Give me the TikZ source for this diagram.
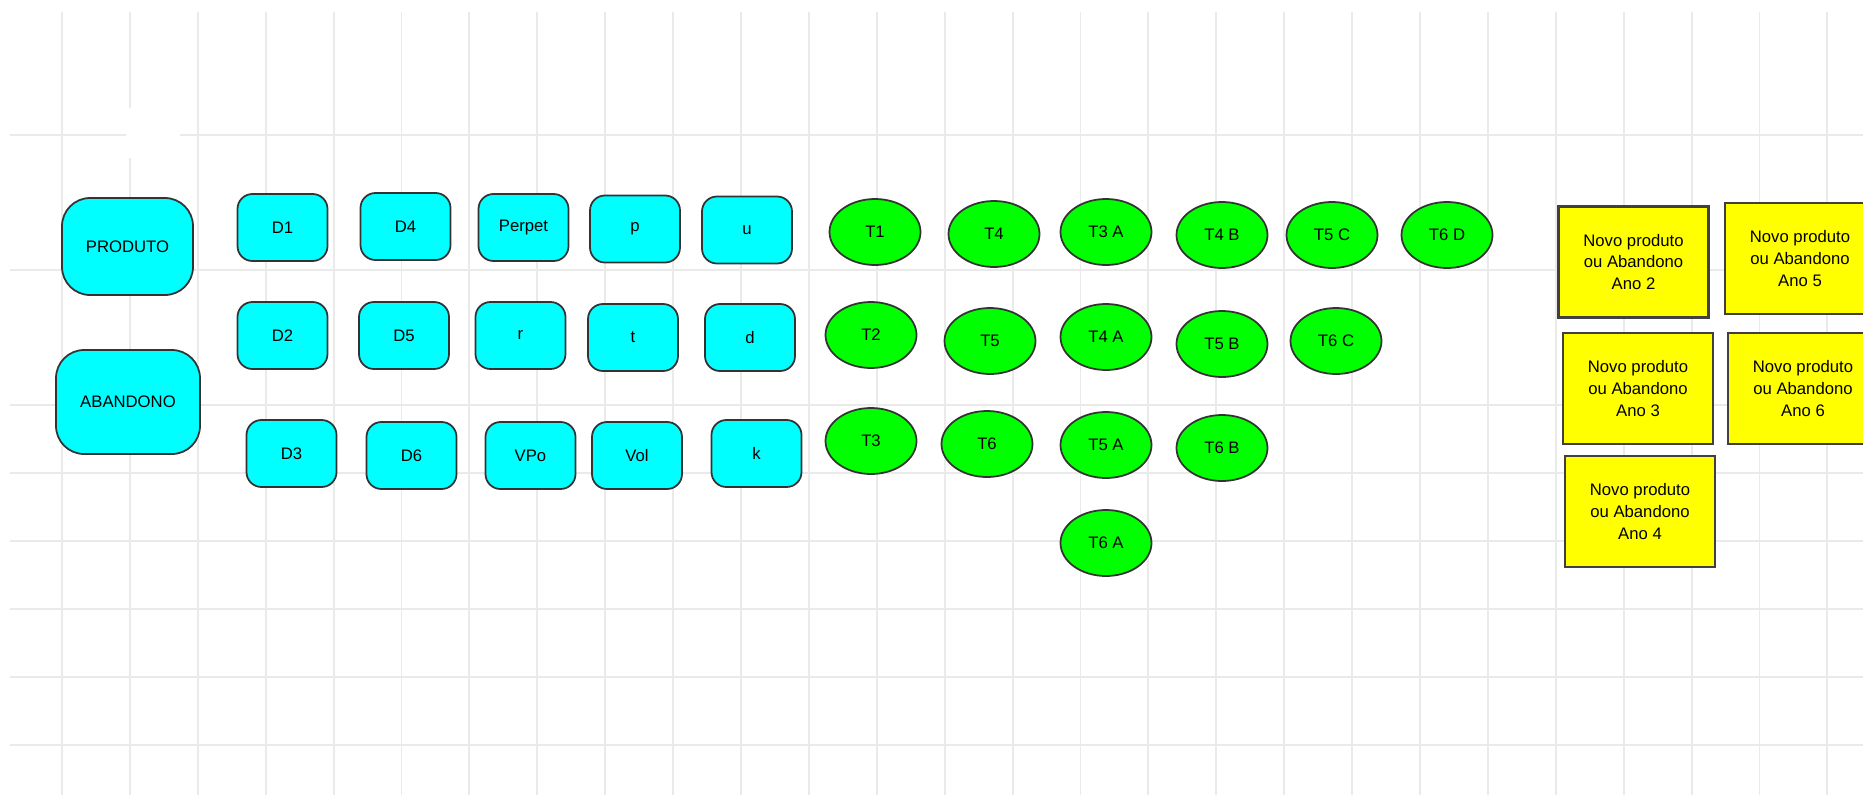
\documentclass[tikz,border=0pt]{standalone}
\usepackage{fontspec}
\setmainfont{Liberation Sans}
\usetikzlibrary{shapes.geometric}
\definecolor{boxC}{HTML}{00FFFF}
\definecolor{ellG}{HTML}{00FF00}
\definecolor{noteY}{HTML}{FFFF00}
\definecolor{gridL}{HTML}{EAEAEA}
\newcommand{\pxl}{0.02cm}
\tikzset{
  gridline/.style={draw=gridL, line width=1.1pt},
  varbox/.style={rectangle, rounded corners=8.5pt, fill=boxC, draw=black!80, line width=1pt,
    minimum width=90*\pxl, minimum height=67*\pxl, inner sep=0pt, font=\fontsize{9.5}{12}\selectfont},
  bigbox/.style={varbox, rounded corners=16pt},
  tnode/.style={ellipse, fill=ellG, draw=black!80, line width=1pt,
    minimum width=91*\pxl, minimum height=66*\pxl, inner sep=0pt, font=\fontsize{9.5}{12}\selectfont},
  anobox/.style={rectangle, fill=noteY, draw=black!75, line width=1.3pt,
    minimum width=150*\pxl, minimum height=111*\pxl, inner sep=0pt, align=center,
    font=\fontsize{9.5}{12.5}\selectfont}
}

\begin{document}
\begin{tikzpicture}[x=\pxl, y=-\pxl]
  \useasboundingbox[fill=white] (0,0) rectangle (1863,795);

  % ---- grid ----
  \foreach \k in {0,...,26} {
    \draw[gridline] ({62+67.9*\k},12) -- ({62+67.9*\k},795);
  }
  \foreach \gy in {135,270,405,473,541,609,677,745} {
    \draw[gridline] (10,\gy) -- (1863,\gy);
  }
  \fill[white] (126,108) rectangle (180,158);

  % ---- left: product / abandon ----
  \node[bigbox, minimum width=131*\pxl, minimum height=97*\pxl] (prod) at (127.5,246.5) {PRODUTO};
  \node[bigbox, minimum width=144*\pxl, minimum height=104*\pxl] (aband) at (128,402) {ABANDONO};

  % ---- variables ----
  \foreach \n/\x/\y/\t in {D1/282.5/227.5/D1, D2/282.5/335.5/D2, D3/291.5/453.5/D3,
      D4/405.5/226.5/D4, D5/404/335.5/D5, D6/411.5/455.5/D6,
      perpet/523.5/227.5/Perpet, r/520.5/335.5/r, vpo/530.5/455.5/VPo,
      p/635/229/p, t/633/337.5/t, vol/637/455.5/Vol,
      u/747/230/u, d/750/337.5/d, k/756.5/453.5/k} {
    \node[varbox] (\n) at (\x,\y) {\t};
  }

  % ---- periods ----
  \foreach \n/\x/\y/\t in {T1/875/232/T1, T4/994/234/T4, T3A/1106/232/T3 A,
      T4B/1222/235/T4 B, T5C/1332/235/T5 C, T6D/1447/235/T6 D,
      T2/871/335/T2, T5/990/341/T5, T4A/1106/337/T4 A,
      T5B/1222/344/T5 B, T6C/1336/341/T6 C,
      T3/871/441/T3, T6/987/444/T6, T5A/1106/445/T5 A, T6B/1222/448/T6 B,
      T6A/1106/543/T6 A} {
    \node[tnode] (\n) at (\x,\y) {\t};
  }

  % ---- right: new product or abandon ----
  \foreach \n/\x/\y/\a in {ano2/1633.5/262/2, ano5/1800/258.5/5,
      ano3/1638/388.5/3, ano6/1803/388.5/6, ano4/1640/511.5/4} {
    \node[anobox] (\n) at (\x,\y) {Novo produto\\ou Abandono\\Ano \a};
  }
\end{tikzpicture}
\end{document}
